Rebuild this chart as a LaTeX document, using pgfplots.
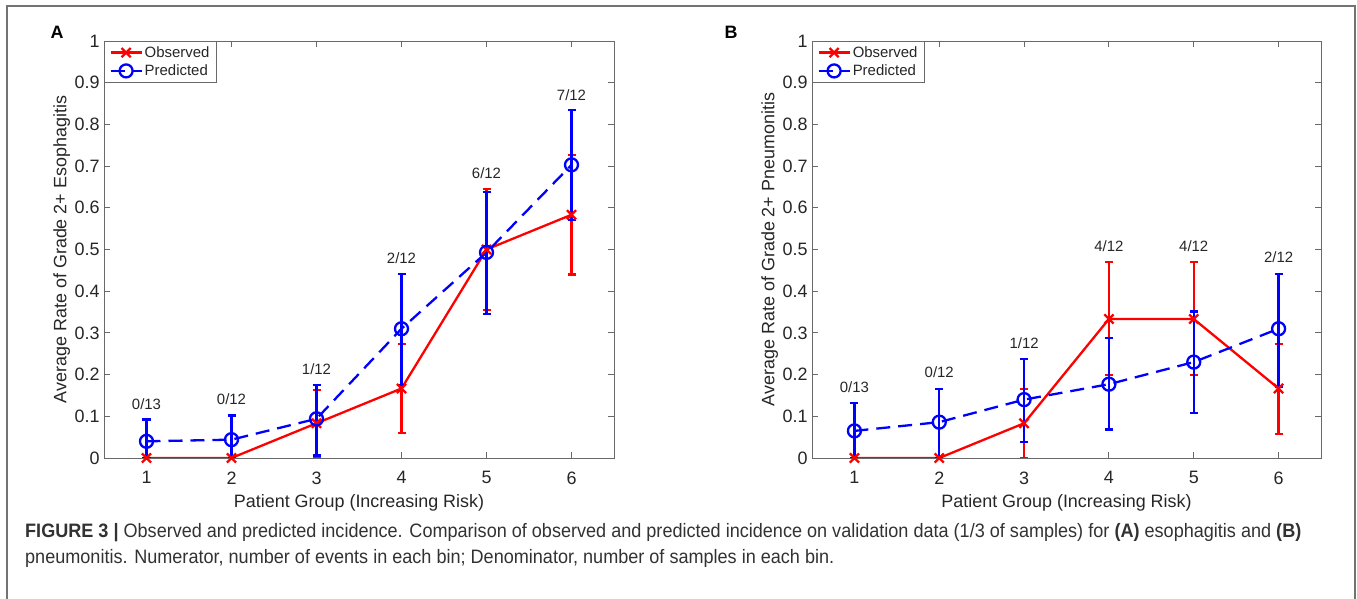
\documentclass[border=0pt]{standalone}
\usepackage{pgfplots}
\pgfplotsset{compat=1.18}
\usepackage{fontspec}
\setmainfont{Liberation Sans}
\newfontfamily\capfont[FakeStretch=0.93]{Liberation Sans}

\definecolor{axgray}{RGB}{105,105,105}
\definecolor{txtgray}{RGB}{38,38,38}
\definecolor{capgray}{RGB}{50,50,50}

\tikzset{cnt/.style={font=\fontsize{15}{17}\selectfont, text=txtgray}}

\pgfplotsset{
  riskaxis/.style={
    scale only axis,
    width=510bp, height=417bp,
    xmin=0.5, xmax=6.5, ymin=0, ymax=1,
    xtick={1,2,3,4,5,6},
    ytick={0,0.1,0.2,0.3,0.4,0.5,0.6,0.7,0.8,0.9,1},
    yticklabels={0,0.1,0.2,0.3,0.4,0.5,0.6,0.7,0.8,0.9,1},
    xticklabels={1,2,3,4,5,6},
    tick align=inside,
    major tick length=6bp,
    axis line style={axgray, line width=0.9bp},
    every tick/.style={axgray, line width=0.9bp},
    tick label style={font=\fontsize{18}{20}\selectfont, text=txtgray},
    xticklabel style={yshift=-10bp},
    yticklabel style={xshift=-1bp},
    label style={font=\fontsize{18}{20}\selectfont, text=txtgray},
    xlabel={Patient Group (Increasing Risk)},
    xlabel style={at={(axis description cs:0.5,-0.107)}, anchor=center},
    ylabel style={at={(axis description cs:-0.083,0.5)}, anchor=center},
    legend style={at={(0,1)}, anchor=north west, draw=axgray, line width=0.9bp,
      font=\fontsize{15}{17}\selectfont, text=txtgray,
      inner xsep=5bp, inner ysep=3bp, row sep=2bp},
    legend cell align=left,
    legend image code/.code={\draw[mark repeat=2,mark phase=2]
      plot coordinates {(0bp,0bp) (15.5bp,0bp) (31bp,0bp)};},
  },
  obs/.style={red, line width=2.3bp, mark=x, mark size=6.5bp, mark options={solid},
    error bars/.cd, y dir=both, y explicit,
    error bar style={line width=2.3bp, solid},
    error mark options={rotate=90, line width=2.3bp, mark size=4bp, solid}},
  pred/.style={blue, line width=2.3bp, dash pattern=on 14bp off 8bp,
    mark=o, mark size=6.5bp, mark options={solid},
    error bars/.cd, y dir=both, y explicit,
    error bar style={line width=2.3bp, solid},
    error mark options={rotate=90, line width=2.3bp, mark size=4bp, solid}},
}

\begin{document}
\begin{tikzpicture}

% panel A
\begin{axis}[riskaxis, at={(104bp,141bp)}, anchor=south west,
  ylabel={Average Rate of Grade 2+ Esophagitis}]
\addplot[obs] coordinates {
  (1,0) += (0,0) -= (0,0)
  (2,0) += (0,0) -= (0,0)
  (3,0.0833) += (0,0.080) -= (0,0.080)
  (4,0.1667) += (0,0.106) -= (0,0.107)
  (5,0.5) += (0,0.145) -= (0,0.145)
  (6,0.5833) += (0,0.144) -= (0,0.143)
};
\addplot[pred] coordinates {
  (1,0.040) += (0,0.052) -= (0,0.040)
  (2,0.044) += (0,0.058) -= (0,0.044)
  (3,0.094) += (0,0.081) -= (0,0.088)
  (4,0.310) += (0,0.132) -= (0,0.135)
  (5,0.493) += (0,0.145) -= (0,0.147)
  (6,0.703) += (0,0.132) -= (0,0.132)
};
\legend{Observed, Predicted}
\node[cnt] at (axis cs:1,0.128) {0/13};
\node[cnt] at (axis cs:2,0.140) {0/12};
\node[cnt] at (axis cs:3,0.212) {1/12};
\node[cnt] at (axis cs:4,0.480) {2/12};
\node[cnt] at (axis cs:5,0.683) {6/12};
\node[cnt] at (axis cs:6,0.870) {7/12};
\end{axis}

% panel B
\begin{axis}[riskaxis, at={(812bp,141bp)}, anchor=south west, width=509bp,
  ylabel={Average Rate of Grade 2+ Pneumonitis}]
\addplot[obs] coordinates {
  (1,0) += (0,0) -= (0,0)
  (2,0) += (0,0) -= (0,0)
  (3,0.0833) += (0,0.082) -= (0,0.083)
  (4,0.3333) += (0,0.137) -= (0,0.135)
  (5,0.3333) += (0,0.137) -= (0,0.135)
  (6,0.1667) += (0,0.107) -= (0,0.109)
};
\addplot[pred] coordinates {
  (1,0.065) += (0,0.067) -= (0,0.065)
  (2,0.086) += (0,0.080) -= (0,0.086)
  (3,0.140) += (0,0.097) -= (0,0.102)
  (4,0.177) += (0,0.110) -= (0,0.109)
  (5,0.230) += (0,0.121) -= (0,0.122)
  (6,0.310) += (0,0.132) -= (0,0.140)
};
\legend{Observed, Predicted}
\node[cnt] at (axis cs:1,0.170) {0/13};
\node[cnt] at (axis cs:2,0.206) {0/12};
\node[cnt] at (axis cs:3,0.276) {1/12};
\node[cnt] at (axis cs:4,0.508) {4/12};
\node[cnt] at (axis cs:5,0.508) {4/12};
\node[cnt] at (axis cs:6,0.482) {2/12};
\end{axis}

% panel letters
\node[font=\fontsize{18}{20}\selectfont\bfseries, text=black] at (57bp,567bp) {A};
\node[font=\fontsize{18}{20}\selectfont\bfseries, text=black] at (731bp,567bp) {B};

% frame
\draw[black!55, line width=1.2bp] (7bp,0bp) -- (7bp,593bp) -- (1355bp,593bp) -- (1355bp,0bp);

% caption
\node[anchor=base west, inner sep=0pt, text=capgray, font=\capfont\fontsize{19.5}{22}\selectfont]
  at (25bp,61bp) {\textbf{FIGURE 3 |} Observed and predicted incidence. Comparison of observed and predicted incidence on validation data (1/3 of samples) for \textbf{(A)} esophagitis and \textbf{(B)}};
\node[anchor=base west, inner sep=0pt, text=capgray, font=\capfont\fontsize{19.5}{22}\selectfont]
  at (25bp,36bp) {pneumonitis. Numerator, number of events in each bin; Denominator, number of samples in each bin.};

\pgfresetboundingbox
\useasboundingbox (0bp,0bp) rectangle (1357bp,599bp);
\end{tikzpicture}
\end{document}
